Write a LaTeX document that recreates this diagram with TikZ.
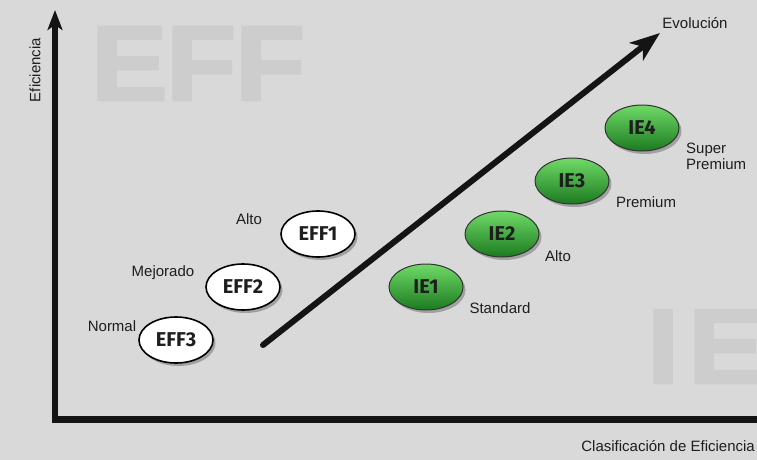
\documentclass[tikz,border=0pt]{standalone}
\usepackage{fontspec}
\setmainfont{Liberation Sans}
\newfontfamily\ellfont{Fira Sans}
\newfontfamily\wmfont{Liberation Sans Bold}[FakeBold=2.5]
\usetikzlibrary{arrows.meta,shapes.geometric,shadows}
\definecolor{bgc}{RGB}{217,217,217}
\definecolor{wmc}{RGB}{205,205,205}
\definecolor{gtop}{RGB}{112,218,104}
\definecolor{gbot}{RGB}{28,122,32}
\definecolor{txt}{RGB}{30,30,30}
\tikzset{
  wm/.style={font=\wmfont\fontsize{106}{106}\selectfont, text=wmc, inner sep=0pt, anchor=base west, xscale=1.08},
  lbl/.style={font=\fontsize{15}{17}\selectfont, text=txt, inner sep=0pt},
  ell/.style={ellipse, minimum width=74pt, minimum height=46pt, inner sep=0pt,
    font=\ellfont\bfseries\fontsize{20}{20}\selectfont, text=txt,
    drop shadow={shadow xshift=2.5pt, shadow yshift=-3pt, opacity=.4, fill=black!70}},
  effell/.style={ell, draw=black, line width=1.6pt, fill=white},
  ieell/.style={ell, draw=black!80, line width=1pt, top color=gtop, bottom color=gbot},
  axisline/.style={line width=6.5pt, black!92},
  evo/.style={line width=6pt, line cap=round, black!92, -{Stealth[length=30pt,width=22pt,inset=8pt]}}
}
\begin{document}
\begin{tikzpicture}[x=1pt,y=-1pt]
\fill[bgc] (0,0) rectangle (757,460);
\useasboundingbox (0,0) rectangle (757,460);
\clip (0,0) rectangle (757,460);

% watermarks
\node[wm] (wmE) at (91,100) {E};
\node[wm] (wmF1) at (166,100) {F};
\node[wm] (wmF2) at (235,100) {F};
\node[wm] (wmI) at (647,383) {I};
\node[wm] (wmE2) at (688,383) {E};

% axes
\coordinate (ybot) at (55,423);
\coordinate (ytop) at (55,10);
\coordinate (xbeg) at (51.75,419);
\coordinate (xend) at (760,419);
\draw[axisline, -{Stealth[length=20pt,width=15pt,inset=5pt]}] (ybot) -- (ytop);
\draw[axisline, line width=7pt] (xbeg) -- (xend);
\node[lbl, rotate=90] (ylab) at (35,70) {Eficiencia};
\node[lbl, anchor=base east] (xlab) at (755,451) {Clasificación de Eficiencia};

% evolution arrow
\coordinate (evs) at (263,345);
\coordinate (eve) at (660,33);
\draw[evo] (evs) -- (eve);
\node[lbl] (evlab) at (695,23) {Evolución};

% EFF ellipses
\node[effell] (eff3) at (176,340) {EFF3};
\node[effell] (eff2) at (243,287) {EFF2};
\node[effell] (eff1) at (318,234) {EFF1};
\node[lbl] (lnormal) at (112,326) {Normal};
\node[lbl] (lmejor) at (163,273) {Mejorado};
\node[lbl] (lalto1) at (249,219) {Alto};

% IE ellipses
\node[ieell] (ie1) at (426,287) {IE1};
\node[ieell] (ie2) at (502,234) {IE2};
\node[ieell] (ie3) at (572,181) {IE3};
\node[ieell] (ie4) at (642,128) {IE4};
\node[lbl] (lstd) at (500,308) {Standard};
\node[lbl] (lalto2) at (558,256) {Alto};
\node[lbl] (lprem) at (646,202) {Premium};
\node[lbl, anchor=north west, align=left, font=\fontsize{15}{16}\selectfont] (lsup) at (686,143) {Super\\Premium};
\end{tikzpicture}
\end{document}
